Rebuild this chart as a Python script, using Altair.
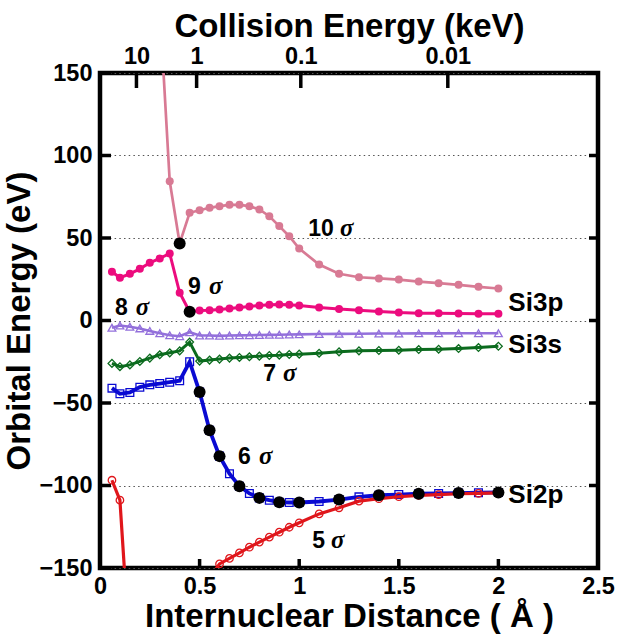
import altair as alt
import pandas as pd

FONT = "Liberation Sans"
SERIF = "Liberation Serif"

# ---------------- data ----------------
x_main = [0.06, 0.1, 0.15, 0.2, 0.25, 0.3, 0.35, 0.4, 0.45, 0.5, 0.55, 0.6, 0.65, 0.7, 0.75,
          0.8, 0.85, 0.9, 0.95, 1.0, 1.1, 1.2, 1.3, 1.4, 1.5, 1.6, 1.7, 1.8, 1.9, 2.0]

x_10s = [0.3, 0.35, 0.4, 0.45, 0.5, 0.55, 0.6, 0.65, 0.7, 0.75, 0.8, 0.85, 0.9, 0.95, 1.0,
         1.1, 1.2, 1.3, 1.4, 1.5, 1.6, 1.7, 1.8, 1.9, 2.0]
y_10s = [190, 84.4, 46.7, 65.3, 66.8, 68.3, 69.3, 70.1, 70.1, 69.3, 67.3, 63.2, 57.2, 51.1, 43.6,
         33.9, 28.3, 26.2, 25.5, 24.8, 23.6, 22.6, 21.6, 20.4, 19.4]

y_9s = [29.5, 25.9, 28.3, 31.3, 35.0, 37.6, 40.6, 16.8, 5.3, 6.1, 6.2, 6.7, 7.3, 7.9, 8.5,
        9.1, 9.5, 9.7, 9.5, 9.1, 7.9, 7.0, 6.2, 5.5, 4.8, 4.4, 4.4, 4.2, 4.1, 4.1]

y_8s = [-4.4, -3.0, -3.8, -4.8, -6.3, -7.7, -8.9, -9.5, -7.1, -9.1, -9.1, -9.3, -9.1, -9.0, -8.9,
        -8.8, -8.7, -8.6, -8.5, -8.4, -8.2, -8.1, -8.0, -7.9, -7.9, -7.8, -7.8, -7.7, -7.7, -7.7]

y_7s = [-26.0, -28.0, -26.9, -24.8, -22.8, -20.8, -19.6, -18.4, -13.1, -24.6, -24.0, -23.4, -22.8,
        -22.4, -22.0, -21.6, -21.2, -21.0, -20.6, -20.4, -19.8, -19.0, -18.4, -18.2, -18.0, -17.6,
        -17.4, -17.0, -16.4, -15.6]

y_6s = [-41.0, -44.4, -43.6, -40.4, -39.0, -38.2, -37.4, -36.5, -25.0, -43.4, -66.5, -82.2, -92.9,
        -100.4, -104.8, -107.5, -108.9, -110.1, -110.3, -110.3, -109.7, -108.5, -106.9, -105.9,
        -105.5, -105.0, -104.8, -104.6, -104.4, -104.2]

x_5s = [0.06, 0.1, 0.15, 0.55, 0.6, 0.65, 0.7, 0.75, 0.8, 0.85, 0.9, 0.95, 1.0,
        1.1, 1.2, 1.3, 1.4, 1.5, 1.6, 1.7, 1.8, 1.9, 2.0]
y_5s = [-96.8, -108.9, -202, -156, -147.5, -144.2, -140.8, -137.4, -134.3, -131.3, -128.3, -125.3,
        -122.6, -117.2, -113.5, -109.5, -108.0, -106.8, -106.0, -105.5, -105.0, -104.8, -104.5]

x_cross = [0.4, 0.45, 0.5, 0.55, 0.6, 0.7, 0.8, 0.9, 1.0, 1.2, 1.4, 1.6, 1.8, 2.0]
y_cross = [46.7, 5.3, -43.4, -66.5, -82.2, -100.4, -107.5, -110.1, -110.3, -108.5, -105.9,
           -105.0, -104.6, -104.2]

y_ticks = [-150, -100, -50, 0, 50, 100, 150]
x_ticks = [0, 0.5, 1, 1.5, 2, 2.5]
energy_pos = [0.183, 0.485, 1.008, 1.746]
energy_labels = ["10", "1", "0.1", "0.01"]

# annotation labels
orb_num = ["10", "9", "8", "7", "6", "5"]
orb_num_x = [1.045, 0.442, 0.075, 0.819, 0.693, 1.065]
orb_sig_x = [1.205, 0.547, 0.18, 0.919, 0.798, 1.16]
orb_y = [51.1, 15.8, 3.6, -36.8, -86.7, -137.8]
atom_labels = ["Si3p", "Si3s", "Si2p"]
atom_x = [2.05, 2.05, 2.05]
atom_y = [5.6, -19.4, -110.5]

# ---------------- chart ----------------
W, H = 498, 495
TICK_FS = 23.5
TITLE_FS = 33
xscale = alt.Scale(domain=[0, 2.5], nice=False, zero=False)
yscale = alt.Scale(domain=[-150, 150], nice=False, zero=False)

yaxis = alt.Axis(values=y_ticks, title="Orbital Energy (eV)", grid=True, gridDash=[1.5, 3.2],
                 gridColor="#555555", gridWidth=1.2, ticks=False, tickSize=0, domain=False,
                 labelFont=FONT, labelFontSize=TICK_FS, labelFontWeight="bold", labelColor="black",
                 labelPadding=8, titleFont=FONT, titleFontSize=TITLE_FS, titleFontWeight="bold",
                 titleColor="black", titlePadding=3)


def Y(field="y"):
    return alt.Y(field, type="quantitative", scale=yscale, axis=yaxis)


def X(field="x"):
    return alt.X(field, type="quantitative", scale=xscale, axis=None)


label_map = "{" + ",".join(f"'{p}':'{l}'" for p, l in zip(energy_pos, energy_labels)) + "}"

bottom_axis = alt.Axis(values=x_ticks, title="Internuclear Distance ( Å )", labelExpr="datum.value + ''",
                       ticks=False, tickSize=0, domain=False, grid=False, labelFlush=False,
                       labelOverlap=False, labelFont=FONT, labelFontSize=TICK_FS, labelFontWeight="bold",
                       labelColor="black", labelPadding=6, titleFont=FONT, titleFontSize=TITLE_FS,
                       titleFontWeight="bold", titleColor="black", titlePadding=3)

top_axis = alt.Axis(orient="top", values=energy_pos, title="Collision Energy (keV)",
                    labelExpr=label_map + "[datum.value + '']", ticks=False, tickSize=0,
                    domain=False, grid=False, labelFlush=False, labelOverlap=False,
                    labelFont=FONT, labelFontSize=TICK_FS, labelFontWeight="bold", labelColor="black",
                    labelPadding=5, titleFont=FONT, titleFontSize=TITLE_FS, titleFontWeight="bold",
                    titleColor="black", titlePadding=1)

layers = []

# inward ticks
layers.append(alt.Chart(pd.DataFrame({"x": x_ticks})).mark_rule(color="black", strokeWidth=3.5).encode(
    x=alt.X("x", type="quantitative", scale=xscale, axis=bottom_axis), y=alt.value(H - 9), y2=alt.value(H)))
layers.append(alt.Chart(pd.DataFrame({"x": energy_pos})).mark_rule(color="black", strokeWidth=3.5).encode(
    x=alt.X("x", type="quantitative", scale=xscale, axis=top_axis), y=alt.value(0), y2=alt.value(15)))
layers.append(alt.Chart(pd.DataFrame({"y": y_ticks})).mark_rule(color="black", strokeWidth=3.5).encode(
    y=Y(), x=alt.value(0), x2=alt.value(11)))
layers.append(alt.Chart(pd.DataFrame({"y": y_ticks})).mark_rule(color="black", strokeWidth=3.5).encode(
    y=Y(), x=alt.value(W - 9), x2=alt.value(W)))

series = [
    # x, y, color, line width, shape, size, filled
    (x_10s, y_10s, "#D87A94", 2.7, "circle", 64, True),
    (x_main, y_9s, "#EC0C7E", 3.0, "circle", 64, True),
    (x_main, y_8s, "#9370DB", 2.6, "triangle-up", 60, False),
    (x_main, y_7s, "#0B6B1E", 3.0, "diamond", 60, False),
    (x_main, y_6s, "#0A0AD2", 3.8, "square", 60, False),
    (x_5s, y_5s, "#E0161B", 3.2, "circle", 56, False),
]

for xs, ys, col, lw, shape, size, filled in series:
    df = pd.DataFrame({"x": xs, "y": ys})
    base = alt.Chart(df)
    layers.append(base.mark_line(color=col, strokeWidth=lw, clip=True).encode(x=X(), y=Y()))
    if filled:
        pt = base.mark_point(shape=shape, size=size, filled=True, color=col, opacity=1, clip=True)
    else:
        pt = base.mark_point(shape=shape, size=size, filled=False, color=col, strokeWidth=1.3,
                             opacity=1, clip=True)
    layers.append(pt.encode(x=X(), y=Y()))

layers.append(alt.Chart(pd.DataFrame({"x": x_cross, "y": y_cross})).mark_point(
    shape="circle", size=144, filled=True, color="black", opacity=1, clip=True).encode(x=X(), y=Y()))

# annotations
layers.append(alt.Chart(pd.DataFrame({"x": orb_num_x, "y": orb_y, "t": orb_num})).mark_text(
    font=FONT, fontSize=23, fontWeight="bold", align="left", baseline="alphabetic", color="black").encode(
    x=X(), y=Y(), text="t:N"))
layers.append(alt.Chart(pd.DataFrame({"x": orb_sig_x, "y": orb_y, "t": ["σ"] * len(orb_y)})).mark_text(
    font=SERIF, fontSize=25, fontWeight="bold", fontStyle="italic", align="left", baseline="alphabetic",
    color="black").encode(x=X(), y=Y(), text="t:N"))
layers.append(alt.Chart(pd.DataFrame({"x": atom_x, "y": atom_y, "t": atom_labels})).mark_text(
    font=FONT, fontSize=26, fontWeight="bold", align="left", baseline="alphabetic", color="black").encode(
    x=X(), y=Y(), text="t:N"))

chart = alt.layer(*layers).resolve_axis(x="independent").properties(
    width=W, height=H,
    autosize=alt.AutoSizeParams(type="none"),
    padding={"left": 100, "top": 73, "right": 21, "bottom": 69},
).configure_view(stroke="black", strokeWidth=4.5)

chart.save("out.html", embed_options={"renderer": "svg", "actions": False})
